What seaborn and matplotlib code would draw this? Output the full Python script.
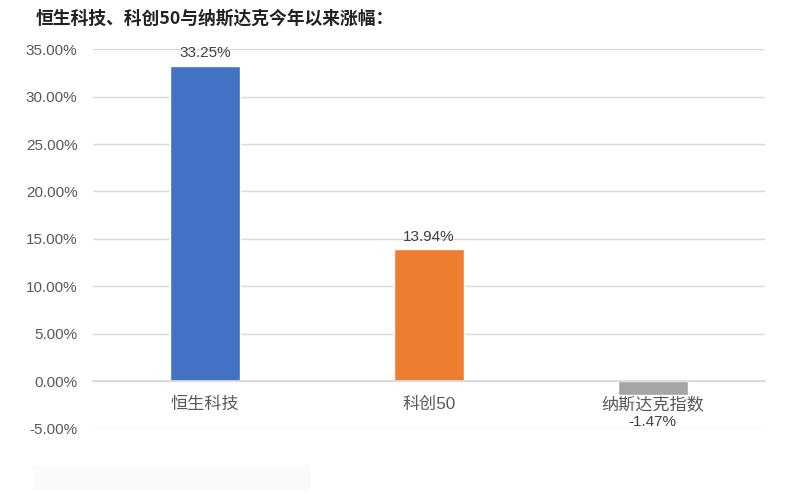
import matplotlib
matplotlib.use("Agg")
import matplotlib.pyplot as plt
import seaborn as sns
import pandas as pd
from matplotlib.ticker import FuncFormatter
from matplotlib.patches import Rectangle

categories = ["恒生科技", "科创50", "纳斯达克指数"]
values = [0.3325, 0.1394, -0.0147]
colors = ["#4472C4", "#ED7D31", "#A5A5A5"]
title = "恒生科技、科创50与纳斯达克今年以来涨幅："

sns.set_theme(style="white")
plt.rcParams['font.family'] = ['Liberation Sans', 'Noto Sans CJK SC', 'DejaVu Sans']

df = pd.DataFrame({"cat": categories, "val": values})

fig = plt.figure(figsize=(8, 4.94), dpi=100)
ax = fig.add_axes([0.116, 0.1316, 0.84, 0.7692])

sns.barplot(data=df, x="cat", y="val", hue="cat", palette=colors, legend=False,
            width=0.31, ax=ax, saturation=1)

ax.set_ylim(-0.05, 0.35)
ax.set_xlim(-0.5, 2.5)
ax.set_yticks([i * 0.05 for i in range(-1, 8)])
ax.yaxis.set_major_formatter(FuncFormatter(lambda v, p: f"{v*100:.2f}%"))
ax.grid(axis="y", color="#D9D9D9", linewidth=1)
ax.set_axisbelow(True)
for s in ["top", "right", "left"]:
    ax.spines[s].set_visible(False)
ax.spines["bottom"].set_position(("data", 0))
ax.spines["bottom"].set_color("#D9D9D9")
ax.tick_params(axis="both", length=0, colors="#595959")
ax.tick_params(axis="x", pad=11, labelsize=12.3)
ax.tick_params(axis="y", pad=11, labelsize=11)
ax.set_xlabel("")
ax.set_ylabel("")

for c in ax.containers:
    v = c.datavalues[0]
    ax.bar_label(c, labels=[f"{x*100:.2f}%" for x in c.datavalues],
                 padding=14 if v < 0 else 4, color="#404040", fontsize=11)

fig.text(0.044, 0.963, title, fontsize=12.8, fontweight="bold", color="#222222",
         va="center", ha="left", family=['Noto Sans CJK SC', 'DejaVu Sans'])

fig.patches.append(Rectangle((0.041, 0.008), 0.347, 0.05, transform=fig.transFigure,
                             facecolor="#FAFAFA", edgecolor="none", zorder=0))

fig.savefig("out.png", dpi=100, facecolor="white")
